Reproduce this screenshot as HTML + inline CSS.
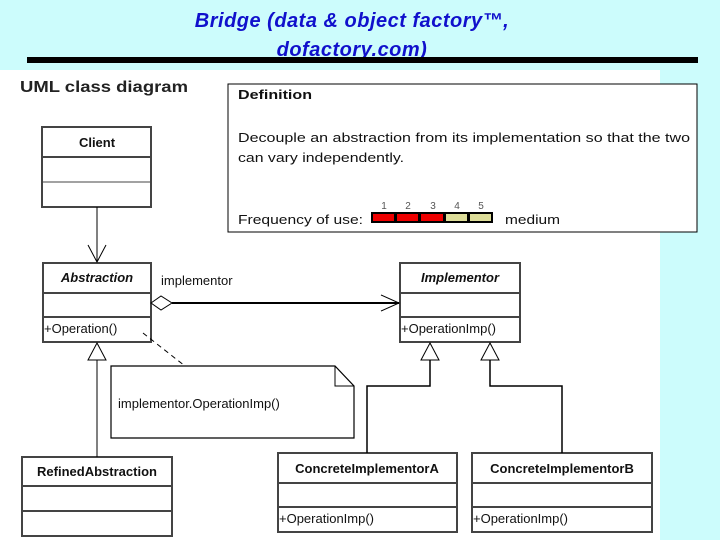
<!DOCTYPE html>
<html><head><meta charset="utf-8"><style>
html,body{margin:0;padding:0;width:720px;height:540px;overflow:hidden;background:#ccfcfc}
svg{display:block}
text{font-family:"Liberation Sans",sans-serif}
</style></head><body>
<svg width="720" height="540" viewBox="0 0 720 540">
<rect x="0" y="0" width="720" height="540" fill="#ccfcfc"/>
<text x="352" y="27" text-anchor="middle" font-size="20" font-weight="bold" font-style="italic" fill="#1010cc" letter-spacing="0.5">Bridge (data &amp; object factory™,</text>
<text x="352" y="56" text-anchor="middle" font-size="20" font-weight="bold" font-style="italic" fill="#1010cc" letter-spacing="0.5">dofactory.com)</text>
<rect x="27" y="57" width="671" height="6" fill="#000"/>
<rect x="0" y="70" width="660" height="470" fill="#fff"/>
<text x="20" y="92" font-size="16" font-weight="bold" fill="#222" textLength="168" lengthAdjust="spacingAndGlyphs">UML class diagram</text>
<!-- definition -->
<rect x="228" y="84" width="469" height="148" fill="#fff" stroke="#000" stroke-width="1"/>
<text x="238" y="99" font-size="13" font-weight="bold" fill="#111" textLength="74" lengthAdjust="spacingAndGlyphs">Definition</text>
<text x="238" y="142" font-size="13" fill="#111" textLength="452" lengthAdjust="spacingAndGlyphs">Decouple an abstraction from its implementation so that the two</text>
<text x="238" y="162" font-size="13" fill="#111" textLength="166" lengthAdjust="spacingAndGlyphs">can vary independently.</text>
<text x="238" y="224" font-size="13" fill="#111" textLength="125" lengthAdjust="spacingAndGlyphs">Frequency of use:</text>
<g font-size="10" fill="#555" text-anchor="middle"><text x="384" y="209">1</text><text x="408" y="209">2</text><text x="433" y="209">3</text><text x="457" y="209">4</text><text x="481" y="209">5</text></g>
<rect x="371" y="212" width="122" height="11" fill="#000"/>
<rect x="373" y="214" width="21" height="7" fill="#e00"/><rect x="397" y="214" width="21" height="7" fill="#e00"/><rect x="421" y="214" width="22" height="7" fill="#e00"/><rect x="446" y="214" width="21" height="7" fill="#dddd99"/><rect x="470" y="214" width="21" height="7" fill="#dddd99"/>
<text x="505" y="224" font-size="13" fill="#111" textLength="55" lengthAdjust="spacingAndGlyphs">medium</text>
<g fill="#fff" stroke="#444" stroke-width="2">
<rect x="42" y="127" width="109" height="80"/>
<rect x="43" y="263" width="108" height="79"/>
<rect x="400" y="263" width="120" height="79"/>
<rect x="22" y="457" width="150" height="79"/>
<rect x="278" y="453" width="179" height="79"/>
<rect x="472" y="453" width="180" height="79"/>
</g>
<g stroke="#444" stroke-width="2">
<line x1="42" y1="157" x2="151" y2="157"/><line x1="42" y1="182" x2="151" y2="182" stroke-width="1"/>
<line x1="43" y1="293" x2="151" y2="293"/><line x1="43" y1="317" x2="151" y2="317"/>
<line x1="400" y1="293" x2="520" y2="293"/><line x1="400" y1="317" x2="520" y2="317"/>
<line x1="22" y1="486" x2="172" y2="486"/><line x1="22" y1="511" x2="172" y2="511"/>
<line x1="278" y1="483" x2="457" y2="483"/><line x1="278" y1="507" x2="457" y2="507"/>
<line x1="472" y1="483" x2="652" y2="483"/><line x1="472" y1="507" x2="652" y2="507"/>
</g>
<g font-size="13" fill="#111" text-anchor="middle" font-weight="bold">
<text x="97" y="147">Client</text>
<text x="97" y="282" font-style="italic">Abstraction</text>
<text x="460" y="282" font-style="italic">Implementor</text>
<text x="97" y="476">RefinedAbstraction</text>
<text x="367" y="473">ConcreteImplementorA</text>
<text x="562" y="473">ConcreteImplementorB</text>
</g>
<g font-size="13" fill="#111">
<text x="44" y="333">+Operation()</text>
<text x="401" y="333">+OperationImp()</text>
<text x="279" y="523">+OperationImp()</text>
<text x="473" y="523">+OperationImp()</text>
<text x="161" y="285">implementor</text>
</g>
<g stroke="#000" fill="none" stroke-width="1">
<line x1="97" y1="207" x2="97" y2="262"/>
<polyline points="88,245 97,262 106,245"/>
<line x1="172" y1="303" x2="399" y2="303" stroke-width="2"/>
<polygon points="151,303 161,296 172,303 161,310" fill="#fff"/>
<polyline points="381,295 399,303 381,311"/>
<polygon points="97,343 88,360 106,360" fill="#fff"/>
<line x1="97" y1="360" x2="97" y2="457"/>
<polygon points="430,343 421,360 439,360" fill="#fff"/>
<polyline points="430,360 430,386 367,386 367,453" stroke-width="1.5"/>
<polygon points="490,343 481,360 499,360" fill="#fff"/>
<polyline points="490,360 490,386 562,386 562,453" stroke-width="1.5"/>
<line x1="143" y1="333" x2="185" y2="366" stroke-dasharray="5,4"/>
<polygon points="111,366 335,366 354,386 354,438 111,438" fill="#fff" stroke-width="1.2"/>
<polyline points="335,366 335,386 354,386"/>
</g>
<text x="118" y="408" font-size="13" fill="#111">implementor.OperationImp()</text>
</svg>
</body></html>
